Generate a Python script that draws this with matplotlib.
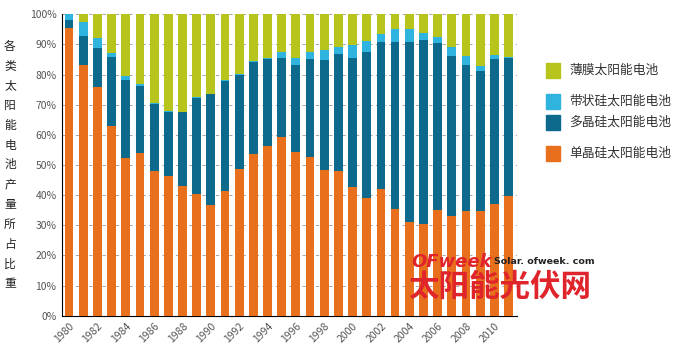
import numpy as np
import matplotlib
matplotlib.use('Agg')
import matplotlib.pyplot as plt
from matplotlib.patches import Rectangle

plt.rcParams['font.family'] = ['Noto Sans CJK SC', 'DejaVu Sans']

years = list(range(1980, 2012))
# cumulative tops (%)
mono_top = [95.5, 83.2, 75.8, 62.9, 52.4, 53.9, 48.1, 46.2, 43.0, 40.4, 36.7,
            41.4, 48.8, 53.8, 56.3, 59.4, 54.4, 52.5, 48.3, 48.1, 42.6,
            39.2, 42.0, 35.4, 31.2, 30.5, 35.1, 33.1, 34.7, 34.8, 37.2, 39.8]
poly_top = [98.2, 92.9, 88.9, 85.9, 78.3, 76.1, 70.1, 67.7, 67.5, 72.3, 73.4,
            78.0, 79.9, 84.3, 85.1, 85.4, 83.2, 85.1, 84.8, 86.8, 85.4,
            87.4, 90.9, 90.7, 90.9, 91.5, 90.6, 86.2, 83.2, 81.2, 85.1, 85.4]
ribbon_top = [100.0, 97.5, 92.0, 87.0, 79.5, 76.8, 70.7, 67.9, 67.7, 72.5, 73.6,
              78.2, 80.1, 84.5, 85.6, 87.4, 85.6, 87.4, 88.2, 89.0, 89.8,
              91.1, 93.4, 95.1, 95.0, 93.7, 92.4, 89.0, 86.2, 82.9, 86.5, 85.9]

mono = np.array(mono_top)
poly = np.array(poly_top) - mono
ribbon = np.array(ribbon_top) - np.array(poly_top)
film = 100 - np.array(ribbon_top)

labels = ['薄膜太阳能电池', '带状硅太阳能电池', '多晶硅太阳能电池', '单晶硅太阳能电池']
colors = ['#b6c41c', '#2fb4df', '#0e6a8c', '#e8701c']

fig = plt.figure(figsize=(6.94, 3.51), dpi=100)
ax = fig.add_axes([62 / 694, 1 - 315.7 / 351, (517 - 62) / 694, 301.4 / 351])

x = np.arange(len(years))
w = 0.62
ax.bar(x, mono, w, color=colors[3], zorder=3)
ax.bar(x, poly, w, bottom=mono, color=colors[2], zorder=3)
ax.bar(x, ribbon, w, bottom=mono + poly, color=colors[1], zorder=3)
ax.bar(x, film, w, bottom=mono + poly + ribbon, color=colors[0], zorder=3)

ax.set_xlim(-0.5, len(years) - 0.4)
ax.set_ylim(0, 100)
ax.set_yticks(np.arange(0, 101, 10))
ax.set_yticklabels([f'{v}%' for v in range(0, 101, 10)], color='#555555', fontsize=7.5)
ax.yaxis.grid(True, linestyle=(0, (4, 4)), color='#999999', linewidth=0.6, zorder=0)
ax.set_xticks(x[::2])
ax.set_xticklabels([str(y) for y in years[::2]], rotation=45, ha='right',
                   rotation_mode='anchor', color='#555555', fontsize=7.5)
ax.tick_params(length=0, pad=4)
for s in ['top', 'right']:
    ax.spines[s].set_visible(False)
ax.spines['left'].set_color('black')
ax.spines['bottom'].set_color('black')

fig.text(10 / 694, 1 - 165 / 351, '\n'.join('各类太阳能电池产量所占比重'), ha='center', va='center',
         fontsize=8.5, linespacing=1.68, color='#222222')

# legend
leg_y = [70, 101, 122, 153]
for lab, col, yy in zip(labels, colors, leg_y):
    fig.patches.append(Rectangle((546 / 694, 1 - (yy + 8) / 351), 14 / 694, 15 / 351,
                                 transform=fig.transFigure, color=col))
    fig.text(569 / 694, 1 - yy / 351, lab, ha='left', va='center', fontsize=9.2, color='#333333')

# watermark
fig.text(411 / 694, 1 - 262 / 351, 'OFweek', fontsize=13, color='#e0242c',
         fontweight='bold', style='italic', family=['DejaVu Sans'], va='center')
fig.text(494 / 694, 1 - 262 / 351, 'Solar. ofweek. com', fontsize=6.8, color='#222222',
         fontweight='bold', family=['DejaVu Sans'], va='center')
fig.text(408 / 694, 1 - 287 / 351, '太阳能光伏网', fontsize=22, color='#e0242c',
         fontweight='bold', va='center')

fig.savefig('out.png', dpi=100)
